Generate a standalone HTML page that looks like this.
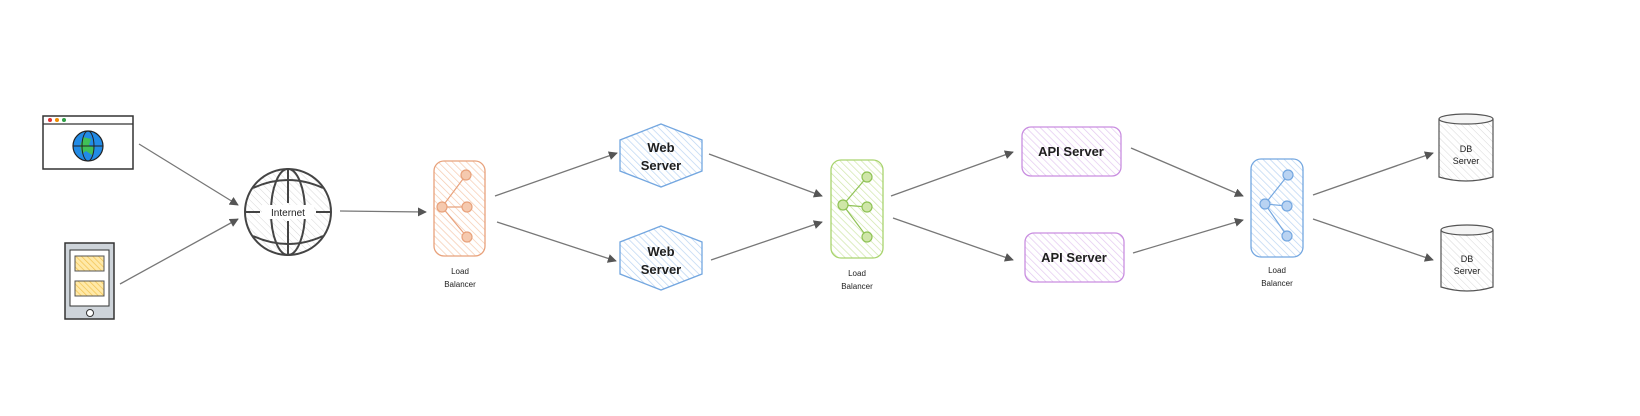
<!DOCTYPE html>
<html><head><meta charset="utf-8"><style>
html,body{margin:0;padding:0;background:#fff;width:1640px;height:416px;overflow:hidden}
text{font-family:"Liberation Sans",sans-serif;fill:#1e1e1e}
</style></head><body>
<svg width="1640" height="416" viewBox="0 0 1640 416" xmlns="http://www.w3.org/2000/svg">
<defs>
<pattern id="hO" width="5" height="5" patternUnits="userSpaceOnUse" patternTransform="rotate(-45)"><line x1="0" y1="0" x2="0" y2="5" stroke="#f5c9ae" stroke-width="1.4"/></pattern>
<pattern id="hG" width="5" height="5" patternUnits="userSpaceOnUse" patternTransform="rotate(-45)"><line x1="0" y1="0" x2="0" y2="5" stroke="#cfe6a8" stroke-width="1.4"/></pattern>
<pattern id="hB" width="5" height="5" patternUnits="userSpaceOnUse" patternTransform="rotate(-45)"><line x1="0" y1="0" x2="0" y2="5" stroke="#b9d3f2" stroke-width="1.4"/></pattern>
<pattern id="hP" width="5" height="5" patternUnits="userSpaceOnUse" patternTransform="rotate(-45)"><line x1="0" y1="0" x2="0" y2="5" stroke="#e3c7f0" stroke-width="1.4"/></pattern>
<pattern id="hK" width="5" height="5" patternUnits="userSpaceOnUse" patternTransform="rotate(-45)"><line x1="0" y1="0" x2="0" y2="5" stroke="#d8d8d8" stroke-width="1"/></pattern>
<pattern id="hY" width="4" height="4" patternUnits="userSpaceOnUse" patternTransform="rotate(-45)"><rect width="4" height="4" fill="#ffe9a8"/><line x1="0" y1="0" x2="0" y2="4" stroke="#f2c14e" stroke-width="1.4"/></pattern>
<marker id="ar" viewBox="0 0 10 10" refX="9" refY="5" markerWidth="9" markerHeight="9" orient="auto" markerUnits="userSpaceOnUse"><path d="M0,0 L10,5 L0,10 z" fill="#555"/></marker>
</defs>

<g stroke="#777" stroke-width="1.3" fill="none" marker-end="url(#ar)">
<line x1="139" y1="144" x2="238" y2="205"/>
<line x1="120" y1="284" x2="238" y2="219"/>
<line x1="340" y1="211" x2="426" y2="212"/>
<line x1="495" y1="196" x2="617" y2="153"/>
<line x1="497" y1="222" x2="616" y2="261"/>
<line x1="709" y1="154" x2="822" y2="196"/>
<line x1="711" y1="260" x2="822" y2="222"/>
<line x1="891" y1="196" x2="1013" y2="152"/>
<line x1="893" y1="218" x2="1013" y2="260"/>
<line x1="1131" y1="148" x2="1243" y2="196"/>
<line x1="1133" y1="253" x2="1243" y2="220"/>
<line x1="1313" y1="195" x2="1433" y2="153"/>
<line x1="1313" y1="219" x2="1433" y2="260"/>
</g>

<rect x="43" y="116" width="90" height="53" fill="#fff" stroke="#333" stroke-width="1.5"/>
<line x1="43" y1="124" x2="133" y2="124" stroke="#333" stroke-width="1.2"/>
<circle cx="50" cy="120" r="2" fill="#e03131"/><circle cx="57" cy="120" r="2" fill="#f08c00"/><circle cx="64" cy="120" r="2" fill="#2f9e44"/>
<circle cx="88" cy="146" r="15" fill="#228be6" stroke="#222" stroke-width="1.2"/>
<path d="M83,137 l8,2 l-2,6 l6,3 l-3,7 l-6,-4 l-4,3 l-2,-8z" fill="#40c057"/>
<ellipse cx="88" cy="146" rx="6" ry="15" fill="none" stroke="#222" stroke-width="1"/>
<line x1="73" y1="146" x2="103" y2="146" stroke="#222"/>

<rect x="65" y="243" width="49" height="76" fill="#ced4da" stroke="#333" stroke-width="1.5"/>
<rect x="70" y="250" width="39" height="56" fill="#fff" stroke="#333"/>
<rect x="75" y="256" width="29" height="15" fill="url(#hY)" stroke="#555"/>
<rect x="75" y="281" width="29" height="15" fill="url(#hY)" stroke="#555"/>
<circle cx="90" cy="313" r="3.5" fill="#fff" stroke="#333"/>

<circle cx="288" cy="212" r="43" fill="url(#hK)" stroke="#444" stroke-width="2"/>
<g fill="none" stroke="#444" stroke-width="2">
<ellipse cx="288" cy="212" rx="17" ry="43"/>
<line x1="288" y1="169" x2="288" y2="203"/><line x1="288" y1="221" x2="288" y2="255"/>
<path d="M253,188 Q288,172 323,188"/><path d="M253,236 Q288,252 323,236"/>
<line x1="245" y1="212" x2="260" y2="212"/><line x1="316" y1="212" x2="331" y2="212"/>
</g>
<rect x="262" y="205" width="52" height="14" fill="#fff"/>
<text x="288" y="216" font-size="10" text-anchor="middle">Internet</text>

<g>
<rect x="434" y="161" width="51" height="95" rx="10" fill="url(#hO)" stroke="#e8a27c" stroke-width="1.3"/>
<g stroke="#e8a27c" stroke-width="1.2" fill="#f5c9ae"><line x1="442" y1="207" x2="466" y2="175"/><line x1="442" y1="207" x2="467" y2="207"/><line x1="442" y1="207" x2="467" y2="237"/>
<circle cx="466" cy="175" r="5"/><circle cx="442" cy="207" r="5"/><circle cx="467" cy="207" r="5"/><circle cx="467" cy="237" r="5"/></g>
<text x="460" y="274" font-size="8" text-anchor="middle">Load</text><text x="460" y="287" font-size="8" text-anchor="middle">Balancer</text>
</g>
<g>
<rect x="831" y="160" width="52" height="98" rx="10" fill="url(#hG)" stroke="#a9d46f" stroke-width="1.3"/>
<g stroke="#8fc255" stroke-width="1.2" fill="#cfe6a8"><line x1="843" y1="205" x2="867" y2="177"/><line x1="843" y1="205" x2="867" y2="207"/><line x1="843" y1="205" x2="867" y2="237"/>
<circle cx="867" cy="177" r="5"/><circle cx="843" cy="205" r="5"/><circle cx="867" cy="207" r="5"/><circle cx="867" cy="237" r="5"/></g>
<text x="857" y="276" font-size="8" text-anchor="middle">Load</text><text x="857" y="289" font-size="8" text-anchor="middle">Balancer</text>
</g>
<g>
<rect x="1251" y="159" width="52" height="98" rx="10" fill="url(#hB)" stroke="#74a7e0" stroke-width="1.3"/>
<g stroke="#74a7e0" stroke-width="1.2" fill="#b9d3f2"><line x1="1265" y1="204" x2="1288" y2="175"/><line x1="1265" y1="204" x2="1287" y2="206"/><line x1="1265" y1="204" x2="1287" y2="236"/>
<circle cx="1288" cy="175" r="5"/><circle cx="1265" cy="204" r="5"/><circle cx="1287" cy="206" r="5"/><circle cx="1287" cy="236" r="5"/></g>
<text x="1277" y="273" font-size="8" text-anchor="middle">Load</text><text x="1277" y="286" font-size="8" text-anchor="middle">Balancer</text>
</g>

<polygon points="661,124 702,140 702,171 661,187 620,171 620,140" fill="url(#hB)" stroke="#74a7e0" stroke-width="1.3"/>
<text x="661" y="152" font-size="13" font-weight="bold" fill="#222" text-anchor="middle">Web</text><text x="661" y="170" font-size="13" font-weight="bold" text-anchor="middle">Server</text>
<polygon points="661,226 702,242 702,274 661,290 620,274 620,242" fill="url(#hB)" stroke="#74a7e0" stroke-width="1.3"/>
<text x="661" y="256" font-size="13" font-weight="bold" text-anchor="middle">Web</text><text x="661" y="274" font-size="13" font-weight="bold" text-anchor="middle">Server</text>

<rect x="1022" y="127" width="99" height="49" rx="9" fill="url(#hP)" stroke="#c98ee0" stroke-width="1.3"/>
<text x="1071" y="156" font-size="13" font-weight="bold" text-anchor="middle">API Server</text>
<rect x="1025" y="233" width="99" height="49" rx="9" fill="url(#hP)" stroke="#c98ee0" stroke-width="1.3"/>
<text x="1074" y="262" font-size="13" font-weight="bold" text-anchor="middle">API Server</text>

<g fill="url(#hK)" stroke="#555" stroke-width="1.2">
<path d="M1439,119 L1439,177 Q1466,185 1493,177 L1493,119"/>
<ellipse cx="1466" cy="119" rx="27" ry="5" fill="#f4f4f4"/>
<path d="M1441,230 L1441,287 Q1467,295 1493,287 L1493,230"/>
<ellipse cx="1467" cy="230" rx="26" ry="5" fill="#f4f4f4"/>
</g>
<text x="1466" y="152" font-size="9" text-anchor="middle">DB</text><text x="1466" y="164" font-size="9" text-anchor="middle">Server</text>
<text x="1467" y="262" font-size="9" text-anchor="middle">DB</text><text x="1467" y="274" font-size="9" text-anchor="middle">Server</text>
</svg>
</body></html>
